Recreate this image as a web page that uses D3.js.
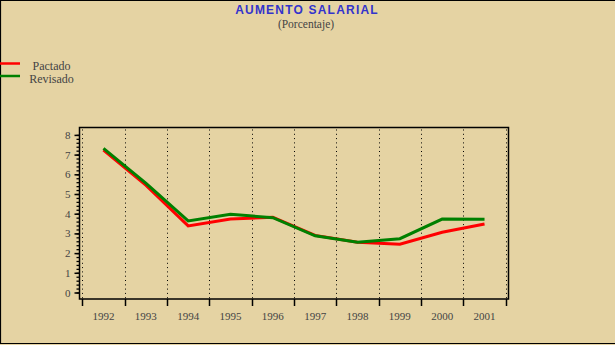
<!DOCTYPE html>
<html><head><meta charset="utf-8">
<script src="https://cdn.jsdelivr.net/npm/d3@7"></script>
<style>
html,body{margin:0;padding:0;background:#E5D3A3;}
svg{display:block;}
</style></head>
<body>
<svg id="c" width="615" height="345"></svg>
<script>
const years = ["1992","1993","1994","1995","1996","1997","1998","1999","2000","2001"];
const pactado = [7.23, 5.45, 3.38, 3.73, 3.82, 2.9, 2.55, 2.45, 3.06, 3.48];
const revisado = [7.32, 5.55, 3.63, 3.97, 3.8, 2.88, 2.55, 2.73, 3.73, 3.72];
const yTicks = [0,1,2,3,4,5,6,7,8];
const title = "AUMENTO SALARIAL";
const subtitle = "(Porcentaje)";
const legendNames = ["Pactado","Revisado"];
const colors = ["#FF0000","#008000"];

(function(){
const svg = d3.select("#c");
svg.append("rect").attr("width",615).attr("height",345).attr("fill","#E5D3A3");
// outer border (top, left, bottom)
svg.append("path").attr("d","M0.5,344 V0.5 H615 M0,343.5 H615").attr("stroke","#000").attr("fill","none").attr("stroke-width",1.2);

const pLeft = 79.5, pRight = 508.5, pTop = 127.5, pBottom = 299;
const x = d3.scaleBand().domain(years).range([82.3, 505.7]).padding(0);
const y = d3.scaleLinear().domain([0,8]).range([292.5, 134.9]);

// title
svg.append("text").attr("x",307).attr("y",14).attr("text-anchor","middle")
  .attr("font-family","Liberation Sans, Arial, sans-serif").attr("font-weight","bold")
  .attr("font-size",12).attr("letter-spacing",1.2).attr("fill","#3333CC").text(title);
svg.append("text").attr("x",306).attr("y",28).attr("text-anchor","middle")
  .attr("font-family","Liberation Serif, serif").attr("font-size",11.5)
  .attr("fill","#444").text(subtitle);

// legend
legendNames.forEach((n,i)=>{
  const ly = 63.5 + i*12.5;
  svg.append("line").attr("x1",0).attr("x2",20).attr("y1",ly).attr("y2",ly)
    .attr("stroke",colors[i]).attr("stroke-width",2.5);
  svg.append("text").attr("x",51.5).attr("y",ly+6.5).attr("text-anchor","middle")
    .attr("font-family","Liberation Serif, serif").attr("font-size",12)
    .attr("fill","#444").text(n);
});

const bounds = years.map(d=>x(d)).concat([x.range()[1]]);

// grid dotted lines
svg.append("g").selectAll("line").data(bounds).join("line")
  .attr("x1",d=>Math.round(d)+0.5).attr("x2",d=>Math.round(d)+0.5)
  .attr("y1",pTop+2).attr("y2",pBottom)
  .attr("stroke","#000").attr("stroke-width",1).attr("stroke-dasharray","1,3.3");

// frame
svg.append("rect").attr("x",pLeft).attr("y",pTop).attr("width",pRight-pLeft).attr("height",pBottom-pTop)
  .attr("fill","none").attr("stroke","#000").attr("stroke-width",1.5);

// x ticks
svg.append("g").selectAll("line").data(bounds).join("line")
  .attr("x1",d=>Math.round(d)+0.5).attr("x2",d=>Math.round(d)+0.5)
  .attr("y1",pBottom).attr("y2",pBottom+7)
  .attr("stroke","#000").attr("stroke-width",1.5);
svg.append("g").selectAll("text").data(years).join("text")
  .attr("x",d=>x(d)+x.bandwidth()/2).attr("y",320).attr("text-anchor","middle")
  .attr("font-family","Liberation Serif, serif").attr("font-size",11).attr("fill","#444")
  .text(d=>d);

// y axis with minor ticks
const yMinor = d3.axisLeft(y).tickValues(d3.range(0,8.01,0.2)).tickSize(3).tickFormat("");
const gm = svg.append("g").attr("transform",`translate(${pLeft},0)`).call(yMinor);
gm.select(".domain").remove();
gm.selectAll("line").attr("stroke","#000").attr("stroke-width",1.3);
const yMajor = d3.axisLeft(y).tickValues(yTicks).tickSize(5).tickPadding(4).tickFormat(d3.format("d"));
const ga = svg.append("g").attr("transform",`translate(${pLeft},0)`).call(yMajor);
ga.select(".domain").remove();
ga.selectAll("line").attr("stroke","#000").attr("stroke-width",1.5);
ga.selectAll("text").attr("font-family","Liberation Serif, serif").attr("font-size",11).attr("fill","#444");

// lines
const line = d3.line().x((d,i)=>x(years[i])+x.bandwidth()/2).y(d=>y(d));
[pactado, revisado].forEach((s,i)=>{
  svg.append("path").datum(s).attr("d",line).attr("fill","none")
    .attr("stroke",colors[i]).attr("stroke-width",3);
});
})();
</script>
</body></html>
